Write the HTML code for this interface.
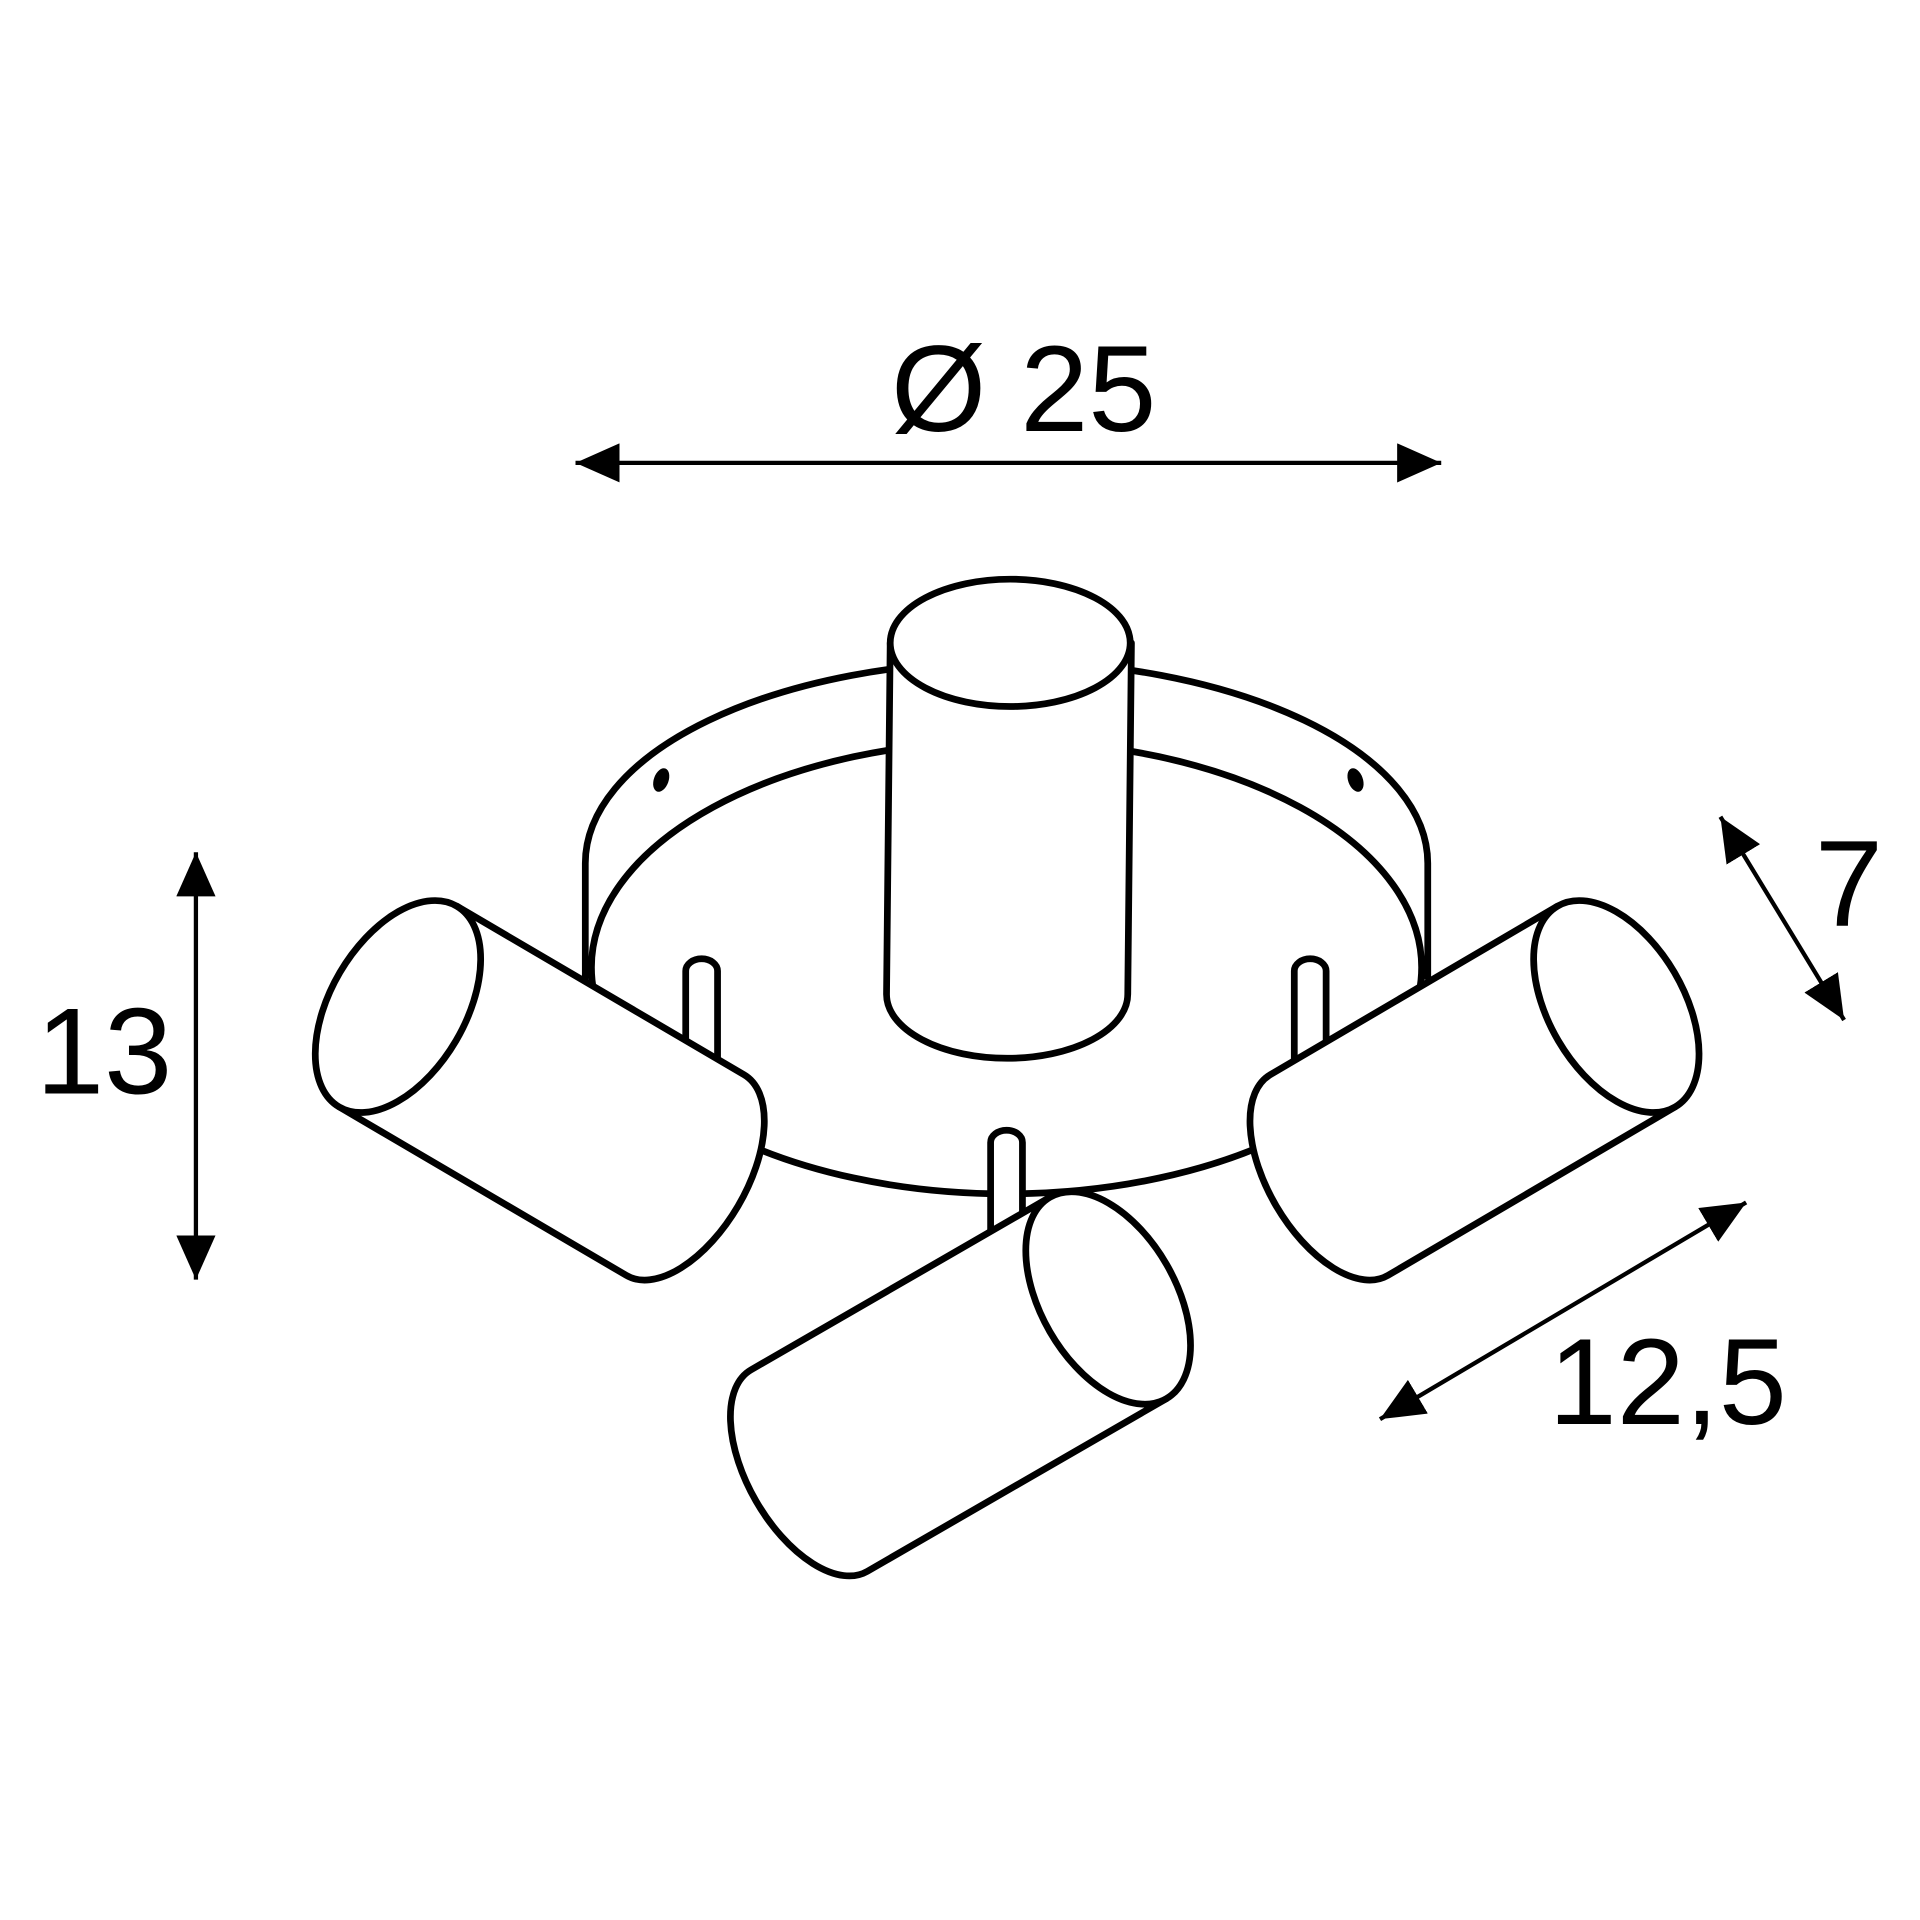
<!DOCTYPE html>
<html><head><style>html,body{margin:0;padding:0;background:#fff}svg{display:block}</style></head>
<body>
<svg width="1920" height="1920" viewBox="0 0 1568 1568" xmlns="http://www.w3.org/2000/svg">
<defs>
<marker id="a" viewBox="0 0 36 32" refX="36" refY="16" markerWidth="36" markerHeight="32" markerUnits="userSpaceOnUse" orient="auto-start-reverse">
<path d="M0,0 L36,16 L0,32 z" fill="#000"/>
</marker>
</defs>
<g fill="none" stroke="#000" stroke-width="5.5" stroke-linejoin="round">
<!-- base disc -->
<path d="M478,800 L478,705 A344,165 0 0 1 1166,705 L1166,800" fill="#fff"/>
<ellipse cx="822" cy="790" rx="339" ry="185" fill="#fff"/>
<ellipse cx="540" cy="637" rx="6" ry="10" fill="#000" stroke="none" transform="rotate(20 540 637)"/>
<ellipse cx="1107" cy="637" rx="6" ry="10" fill="#000" stroke="none" transform="rotate(-20 1107 637)"/>
<!-- posts -->
<path d="M560,870 L560,793 A13,10 0 0 1 586,793 L586,870" fill="#fff"/>
<path d="M1057,870 L1057,793 A13,10 0 0 1 1083,793 L1083,870" fill="#fff"/>
<path d="M809,1010 L809,933 A13,10 0 0 1 835,933 L835,1010" fill="#fff"/>
<!-- center cylinder -->
<path d="M727,525 L724,812 A98,52 0 0 0 921,812 L924,525 Z" fill="#fff"/>
<ellipse cx="825" cy="525" rx="98" ry="52" fill="#fff"/>
<!-- left spot -->
<g transform="translate(325,822) rotate(30.4)">
<path d="M0,-95 L272,-95 A50,95 0 0 1 272,95 L0,95 Z" fill="#fff"/>
<ellipse cx="0" cy="0" rx="55" ry="95" fill="#fff"/>
</g>
<!-- right spot -->
<g transform="translate(1320,822) rotate(149.6)">
<path d="M0,-95 L272,-95 A50,95 0 0 1 272,95 L0,95 Z" fill="#fff"/>
<ellipse cx="0" cy="0" rx="55" ry="95" fill="#fff"/>
</g>
<!-- bottom spot -->
<g transform="translate(905,1060) rotate(150)">
<path d="M0,-95 L282,-95 A50,95 0 0 1 282,95 L0,95 Z" fill="#fff"/>
<ellipse cx="0" cy="0" rx="55" ry="95" fill="#fff"/>
</g>
</g>
<!-- dimensions -->
<g stroke="#000" stroke-width="3.5" fill="none">
<line x1="470" y1="378" x2="1177" y2="378" marker-start="url(#a)" marker-end="url(#a)"/>
<line x1="160" y1="696" x2="160" y2="1045" marker-start="url(#a)" marker-end="url(#a)"/>
<line x1="1405" y1="667" x2="1506" y2="833" marker-start="url(#a)" marker-end="url(#a)"/>
<line x1="1426" y1="982" x2="1127" y2="1159" marker-start="url(#a)" marker-end="url(#a)"/>
</g>
<g font-family="Liberation Sans, Arial, sans-serif" font-size="100" fill="#000">
<text x="836" y="352" text-anchor="middle">Ø 25</text>
<text x="85" y="893" text-anchor="middle">13</text>
<text x="1510" y="756" text-anchor="middle">7</text>
<text x="1362" y="1163" text-anchor="middle">12,5</text>
</g>
</svg>
</body></html>
